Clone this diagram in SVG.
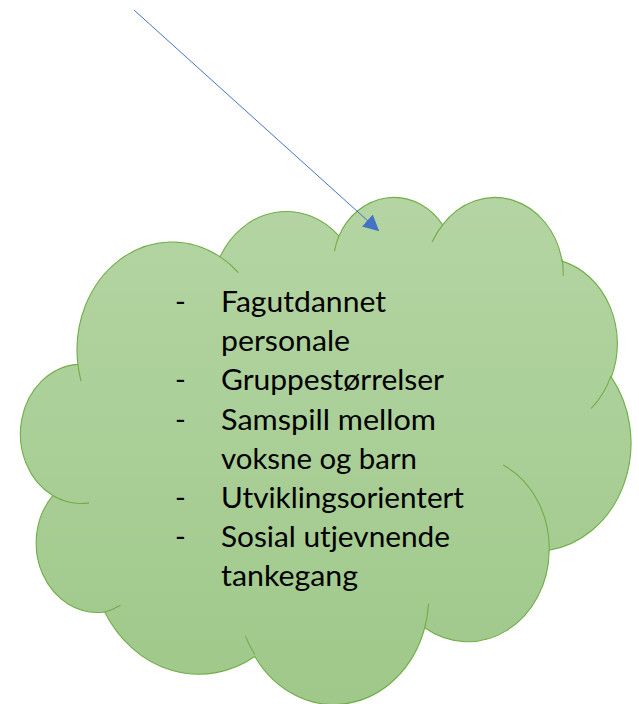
<svg xmlns="http://www.w3.org/2000/svg" width="639" height="704" viewBox="0 0 639 704">
  <style>
    .cloud { fill: url(#cloudFill); stroke: #70ad47; stroke-width: 1.1; }
    .inner { fill: none; stroke: #70ad47; stroke-width: 1.1; }
    .txt { font-family: Lato, "Open Sans", "Liberation Sans", sans-serif; font-size: 29px; fill: #000; }
    .conn { stroke: #4472c4; stroke-width: 1; fill: none; }
  </style>
  <defs>
    <linearGradient id="cloudFill" x1="0" y1="0" x2="0" y2="1">
      <stop offset="0" stop-color="#b4d5a3"/>
      <stop offset="1" stop-color="#9fc88a"/>
    </linearGradient>
    <marker id="arrow" viewBox="0 0 16 16" refX="15" refY="8" markerWidth="16" markerHeight="16" markerUnits="userSpaceOnUse" orient="auto">
      <path d="M0,0 L16,8 L0,16 Z" fill="#4472c4"/>
    </marker>
  </defs>

  <g id="cloud">
    <path class="cloud" d="M77.87,364.35 A95,107.85 0 0 1 220.03,256.76 A75.03,85.29 0 0 1 338.91,235.99 A61.41,69.77 0 0 1 442.69,224.82 A68.33,77.4 0 0 1 562.06,261.14 A75.03,85.36 0 0 1 611.3,377.14 A95.31,108.21 0 0 1 549.2,550.17 A81.38,92.33 0 0 1 424.73,627.75 A94.99,108.15 0 0 1 254.85,656.51 A108.6,123.73 0 0 1 104.66,611.99 A61.34,69.45 0 0 1 52.73,495.54 A61.13,69.77 0 0 1 77.87,364.35 Z"/>
    <path class="inner" d="M89.02,502.91 A61.13,69.77 0 0 1 52.73,495.54
      M120.46,605.27 A61.34,69.45 0 0 1 104.66,611.99
      M254.81,654.46 A94.99,108.15 0 0 1 245.45,636.09
      M428.54,603.54 A94.99,108.15 0 0 1 424.73,627.75
      M503.13,465.09 A81.38,92.33 0 0 1 549.2,550.17
      M611.01,375.89 A75.03,85.36 0 0 1 590.94,408.54
      M562.14,259.38 A68.33,77.4 0 0 1 563.14,275.98
      M432.07,242.08 A68.33,77.4 0 0 1 442.69,224.82
      M334.48,251.09 A61.41,69.77 0 0 1 338.91,235.99
      M219.95,256.63 A95,107.85 0 0 1 238.31,272.58
      M81.06,381 A95,107.85 0 0 1 77.87,364.35"/>
    <text class="txt" x="175" y="312.3">-</text>
    <text class="txt" x="221" y="312.3" textLength="165" lengthAdjust="spacingAndGlyphs">Fagutdannet</text>
    <text class="txt" x="221" y="351.3" textLength="129" lengthAdjust="spacingAndGlyphs">personale</text>
    <text class="txt" x="175" y="390.4">-</text>
    <text class="txt" x="221" y="390.4" textLength="223" lengthAdjust="spacingAndGlyphs">Gruppestørrelser</text>
    <text class="txt" x="175" y="429.5">-</text>
    <text class="txt" x="221" y="429.5" textLength="215" lengthAdjust="spacingAndGlyphs">Samspill mellom</text>
    <text class="txt" x="221" y="468.5" textLength="196" lengthAdjust="spacingAndGlyphs">voksne og barn</text>
    <text class="txt" x="175" y="507.6">-</text>
    <text class="txt" x="221" y="507.6" textLength="243" lengthAdjust="spacingAndGlyphs">Utviklingsorientert</text>
    <text class="txt" x="175" y="546.6">-</text>
    <text class="txt" x="221" y="546.6" textLength="229" lengthAdjust="spacingAndGlyphs">Sosial utjevnende</text>
    <text class="txt" x="221" y="585.7" textLength="137" lengthAdjust="spacingAndGlyphs">tankegang</text>
  </g>

  <g id="connectors">
    <line class="conn" x1="134" y1="10" x2="378.5" y2="230.5" marker-end="url(#arrow)"/>
  </g>
</svg>
